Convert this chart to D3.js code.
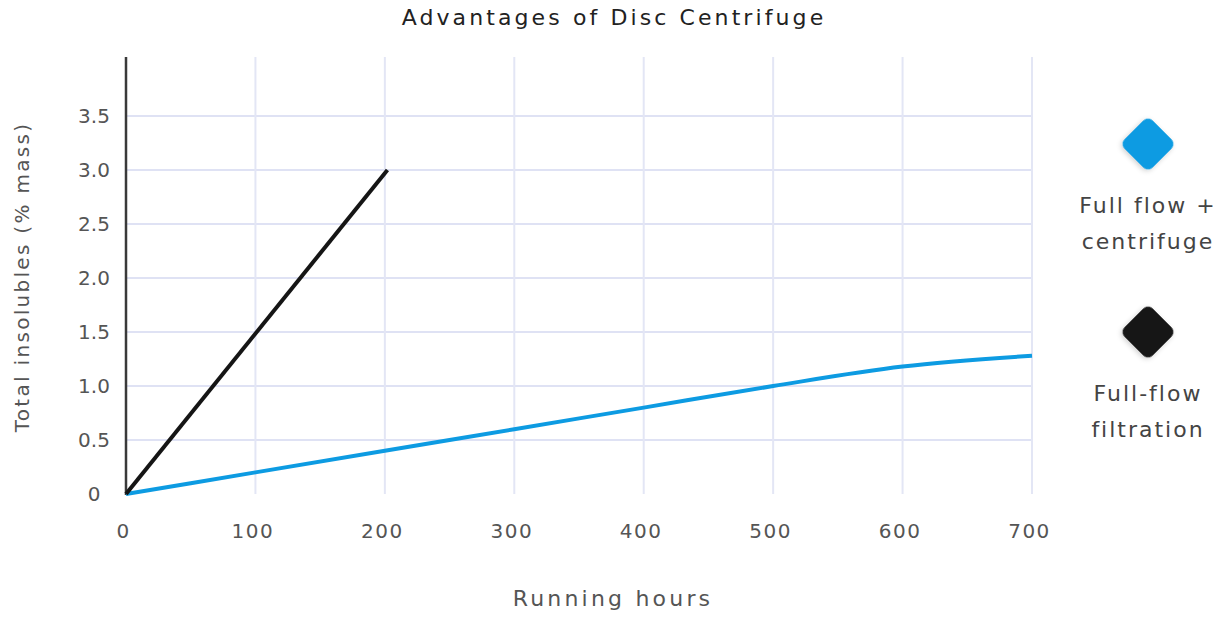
<!DOCTYPE html>
<html>
<head>
<meta charset="utf-8">
<script src="https://cdn.jsdelivr.net/npm/d3@7"></script>
<style>
  body { margin: 0; background: #fff; }
  text { font-family: "DejaVu Sans", Lato, sans-serif; font-weight: 400; }
</style>
</head>
<body>
<div id="chart"></div>
<script>
var width = 1228,
height = 619,
left = 126,
right = 1032,
top_y = 57,
bottom = 494;

// running hours
var hours = [0, 100, 200, 300, 400, 500, 600, 700];
var centrifuge = [0, 0.2, 0.4, 0.6, 0.8, 1.0, 1.18, 1.28];
var filtrationHours = [0, 202];
var filtration = [0, 3.0];
var xTicks = [0, 100, 200, 300, 400, 500, 600, 700];
var yTicks = [0, 0.5, 1.0, 1.5, 2.0, 2.5, 3.0, 3.5];
var yTickLabels = ["0", "0.5", "1.0", "1.5", "2.0", "2.5", "3.0", "3.5"];
var legendNames = [["Full flow +", "centrifuge"], ["Full-flow", "filtration"]];
var colors = ["#0d9be2", "#151515"];

var svg = d3.select("#chart")
.append("svg")
.attr("width", width)
.attr("height", height);

var defs = svg.append("defs");
var shadow = defs.append("filter").attr("id", "shadow")
.attr("x", "-50%").attr("y", "-50%").attr("width", "200%").attr("height", "200%");
shadow.append("feDropShadow")
.attr("dx", 0).attr("dy", 2).attr("stdDeviation", 2.5)
.attr("flood-color", "#000").attr("flood-opacity", 0.18);

var xScale = d3.scaleLinear()
.domain([0, 700])
.range([left, right]);

var yScale = d3.scaleLinear()
.domain([0, 3.5])
.range([bottom, 116]);

// grid
svg.selectAll(".hgrid")
.data(yTicks.slice(1))
.enter()
.append("line")
.attr("x1", left)
.attr("x2", right)
.attr("y1", function(d) { return yScale(d) })
.attr("y2", function(d) { return yScale(d) })
.attr("stroke", "#dfe2f4")
.attr("stroke-width", 2);

svg.selectAll(".vgrid")
.data(xTicks.slice(1))
.enter()
.append("line")
.attr("x1", function(d) { return xScale(d) })
.attr("x2", function(d) { return xScale(d) })
.attr("y1", top_y)
.attr("y2", bottom)
.attr("stroke", "#e3e6f5")
.attr("stroke-width", 2);

// axes
var xAxis = svg.append("g")
.attr("transform", "translate(0," + bottom + ")")
.call(d3.axisBottom(xScale).tickValues(xTicks).tickSize(0).tickPadding(30));
xAxis.select(".domain").attr("stroke", "#3a3a3a").attr("stroke-width", 2.5).attr("filter", "url(#shadow)");
xAxis.selectAll("text")
.attr("font-size", 20)
.attr("letter-spacing", 1.5)
.attr("fill", "#555")
.attr("dx", -3);

var yAxis = svg.append("g")
.attr("transform", "translate(" + left + ",0)")
.call(d3.axisLeft(yScale).tickValues(yTicks).tickSize(0)
  .tickFormat(function(d, i) { return yTickLabels[i] }));
yAxis.select(".domain").remove();
yAxis.selectAll("text")
.attr("x", -32)
.attr("text-anchor", "middle")
.attr("font-size", 20)
.attr("fill", "#555");

svg.append("line")
.attr("x1", left).attr("x2", left)
.attr("y1", top_y).attr("y2", bottom + 1)
.attr("stroke", "#3a3a3a")
.attr("stroke-width", 2.5);

// lines
var line = d3.line()
.x(function(d) { return xScale(d[0]) })
.y(function(d) { return yScale(d[1]) })
.curve(d3.curveMonotoneX);

svg.append("path")
.datum(d3.zip(hours, centrifuge))
.attr("d", line)
.attr("fill", "none")
.attr("stroke", colors[0])
.attr("stroke-width", 4);

svg.append("path")
.datum(d3.zip(filtrationHours, filtration))
.attr("d", line)
.attr("fill", "none")
.attr("stroke", colors[1])
.attr("stroke-width", 4);

// titles
svg.append("text")
.text("Advantages of Disc Centrifuge")
.attr("x", 614)
.attr("y", 25)
.attr("text-anchor", "middle")
.attr("font-size", 22)
.attr("letter-spacing", 3.1)
.attr("fill", "#222");

svg.append("text")
.text("Running hours")
.attr("x", 613)
.attr("y", 606)
.attr("text-anchor", "middle")
.attr("font-size", 22)
.attr("letter-spacing", 3.2)
.attr("fill", "#555");

svg.append("text")
.text("Total insolubles (% mass)")
.attr("transform", "translate(29,277) rotate(-90)")
.attr("text-anchor", "middle")
.attr("font-size", 20)
.attr("letter-spacing", 2.3)
.attr("fill", "#555");

// legend
var legendY = [144, 332];
var legend = svg.selectAll(".legend")
.data(legendNames)
.enter()
.append("g")
.attr("transform", function(d, i) { return "translate(1148," + legendY[i] + ")" });

legend.append("rect")
.attr("x", -20)
.attr("y", -20)
.attr("width", 40)
.attr("height", 40)
.attr("rx", 7)
.attr("transform", "rotate(45)")
.attr("fill", function(d, i) { return colors[i] })
.attr("filter", "url(#shadow)");

legend.selectAll("text")
.data(function(d) { return d })
.enter()
.append("text")
.text(function(d) { return d })
.attr("x", 0)
.attr("y", function(d, i) { return 69 + i * 36 })
.attr("text-anchor", "middle")
.attr("font-size", 22)
.attr("letter-spacing", 2)
.attr("fill", "#444");
</script>
</body>
</html>
